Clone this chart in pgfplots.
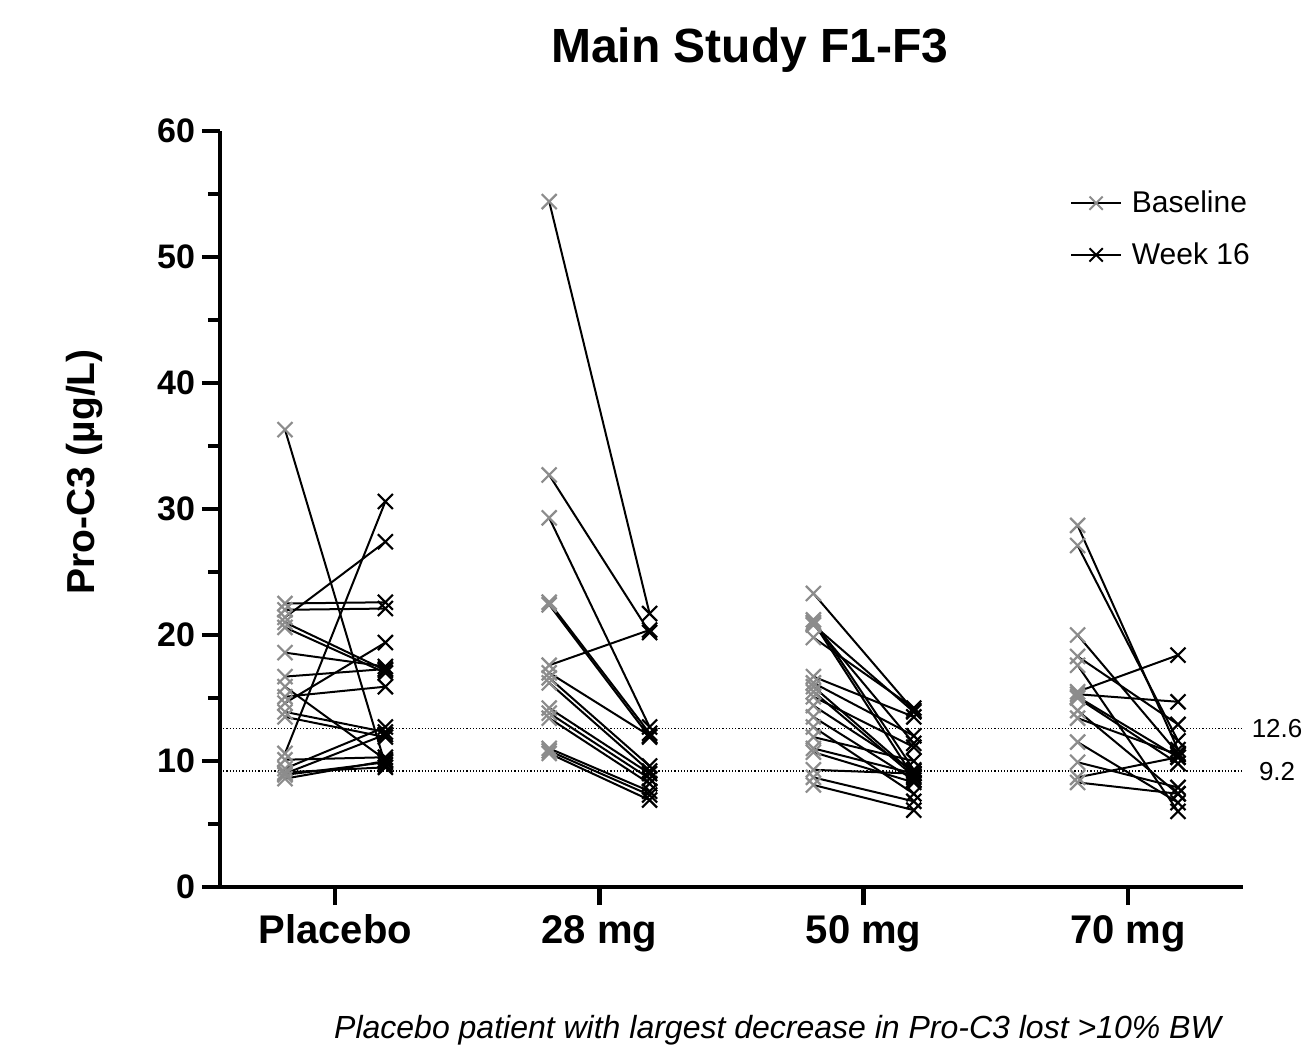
\documentclass[border=0pt]{standalone}
\usepackage{pgfplots}
\pgfplotsset{compat=1.18}
\usepackage{pgfplotstable}
\usepackage{fontspec}
\setmainfont{Liberation Sans}
\definecolor{basegray}{RGB}{140,140,140}

\pgfplotstableread{
b w
36.3 9.7
22.5 22.6
22.0 22.1
21.4 27.4
21.0 17.2
20.6 17.0
18.6 17.5
16.7 17.3
15.9 10.1
15.1 15.9
14.6 19.4
13.9 12.3
13.5 11.9
10.6 30.6
10.1 10.3
9.4 12.7
9.1 9.5
8.9 9.9
8.6 10.0
9.0 12.1
}\placebo

\pgfplotstableread{
b w
54.4 21.7
32.7 20.2
29.3 12.7
22.6 12.2
22.4 11.9
17.6 20.4
17.0 12.0
16.6 9.6
16.2 9.2
14.2 9.0
13.8 8.6
13.4 8.2
11.0 7.6
10.8 7.3
10.6 6.9
}\mgA

\pgfplotstableread{
b w
23.3 14.0
21.2 9.3
21.0 8.7
20.9 11.4
20.8 13.9
19.8 14.2
16.7 13.5
16.2 12.0
15.9 9.0
15.5 8.8
15.1 11.1
14.4 9.2
13.5 8.5
12.7 7.4
11.9 10.0
11.0 9.0
10.7 8.3
9.3 9.0
8.7 6.8
8.1 6.1
}\mgB

\pgfplotstableread{
b w
28.7 10.9
27.1 11.6
20.0 10.6
18.3 12.9
17.6 6.0
15.5 18.4
15.3 14.7
15.1 10.3
15.0 9.8
14.0 7.4
13.4 10.5
11.5 6.7
9.9 7.9
8.7 10.3
8.3 7.4
}\mgC

\pgfplotsset{
  pairline/.style={black, line width=1pt, forget plot},
  basemark/.style={only marks, mark=x, mark size=5.3pt, basegray, mark options={line width=1.1pt}, forget plot},
  weekmark/.style={only marks, mark=x, mark size=5.3pt, black, mark options={line width=1.1pt}, forget plot},
}

\begin{document}
\begin{tikzpicture}
\useasboundingbox (-110pt,-85pt) rectangle (543.5pt,443.5pt);
\begin{axis}[
  at={(0,0)}, anchor=south west,
  scale only axis, width=511.5pt, height=378pt,
  xmin=0.564, xmax=4.436, ymin=0, ymax=60,
  axis lines*=left,
  axis line style={line width=2.2pt, black},
  xtick={1,2,3,4}, xticklabels={Placebo,28 mg,50 mg,70 mg},
  ytick={0,10,...,60}, minor ytick={5,15,...,55},
  xtick pos=left, ytick pos=left,
  tick align=outside, major tick length=9pt, minor tick length=6pt,
  major tick style={line width=2.2pt, black},
  minor tick style={line width=2.2pt, black},
  /pgf/number format/assume math mode=true,
  x tick label style={font=\fontsize{20}{24}\selectfont\bfseries, anchor=north, text height=14.4pt, text depth=0pt, yshift=-1.5pt},
  y tick label style={font=\fontsize{17}{20}\selectfont\bfseries},
  ylabel={Pro-C3 (µg/L)},
  ylabel style={at={(axis description cs:-0.132,0.549)}, anchor=center, font=\fontsize{19.5}{23}\selectfont\bfseries},
  title={Main Study F1-F3},
  title style={at={(axis description cs:0.518,1.091)}, anchor=center, font=\fontsize{24}{28}\selectfont\bfseries},
  clip=false,
  legend image code/.code={\draw[mark repeat=2,mark phase=2,#1] plot coordinates {(0pt,0pt) (12.5pt,0pt) (25pt,0pt)};},
  legend style={at={(axis description cs:0.825,0.932)}, anchor=north west, draw=none, fill=none,
    font=\fontsize{15}{18}\selectfont, row sep=9.5pt,
    nodes={inner xsep=5pt}},
  legend cell align=left,
]
% reference lines
\addplot[black, densely dotted, line width=0.6pt, forget plot] coordinates {(0.564,12.6) (4.436,12.6)};
\addplot[black, densely dotted, line width=0.6pt, forget plot] coordinates {(0.564,9.2) (4.436,9.2)};
\node[font=\fontsize{13}{15}\selectfont] at (axis cs:4.565,12.6) {12.6};
\node[font=\fontsize{13}{15}\selectfont] at (axis cs:4.565,9.2) {9.2};

% connecting lines
\addplot[pairline, quiver={u=0.38, v=\thisrow{w}-\thisrow{b}}] table[x expr=0.81, y=b] {\placebo};
\addplot[pairline, quiver={u=0.38, v=\thisrow{w}-\thisrow{b}}] table[x expr=1.81, y=b] {\mgA};
\addplot[pairline, quiver={u=0.38, v=\thisrow{w}-\thisrow{b}}] table[x expr=2.81, y=b] {\mgB};
\addplot[pairline, quiver={u=0.38, v=\thisrow{w}-\thisrow{b}}] table[x expr=3.81, y=b] {\mgC};

% baseline marks
\addplot[basemark] table[x expr=0.81, y=b] {\placebo};
\addplot[basemark] table[x expr=1.81, y=b] {\mgA};
\addplot[basemark] table[x expr=2.81, y=b] {\mgB};
\addplot[basemark] table[x expr=3.81, y=b] {\mgC};
% week 16 marks
\addplot[weekmark] table[x expr=1.19, y=w] {\placebo};
\addplot[weekmark] table[x expr=2.19, y=w] {\mgA};
\addplot[weekmark] table[x expr=3.19, y=w] {\mgB};
\addplot[weekmark] table[x expr=4.19, y=w] {\mgC};

\addlegendimage{black, line width=0.75pt, mark=x, mark size=4.7pt, mark options={basegray, line width=1pt}}
\addlegendentry{Baseline}
\addlegendimage{black, line width=0.75pt, mark=x, mark size=4.7pt, mark options={black, line width=1pt}}
\addlegendentry{Week 16}

\node[font=\fontsize{16}{19}\selectfont\itshape] at (rel axis cs:0.545,-0.189) {Placebo patient with largest decrease in Pro-C3 lost >10\% BW};
\end{axis}
\end{tikzpicture}
\end{document}
